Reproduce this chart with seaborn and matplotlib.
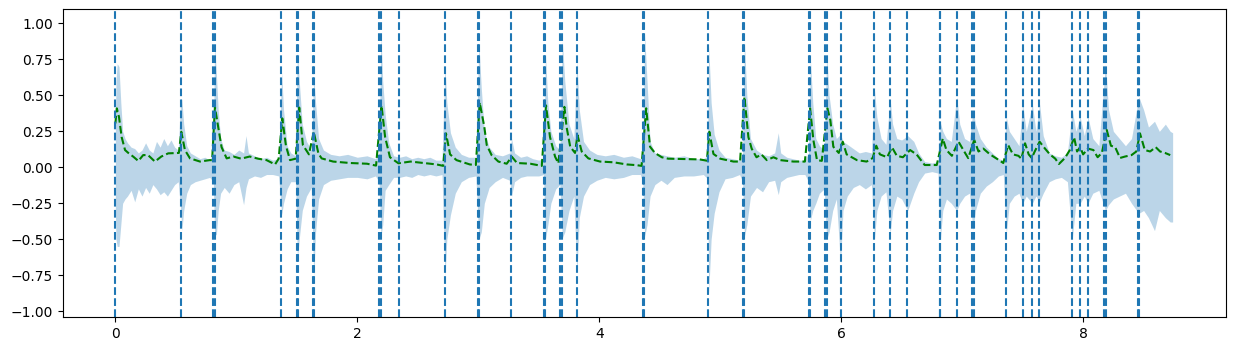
import numpy as np
import pandas as pd
import matplotlib
matplotlib.use("Agg")
import matplotlib.pyplot as plt
import seaborn as sns

# ---- waveform envelope (time [s], upper, lower) ----
wave_t = [0.000, 0.005, 0.015, 0.030, 0.045, 0.060, 0.080, 0.100, 0.130, 0.160, 0.190, 0.220, 0.250, 0.280,
          0.310, 0.340, 0.370, 0.400, 0.430, 0.460, 0.490, 0.520, 0.540, 0.550, 0.565, 0.590, 0.620, 0.660,
          0.700, 0.740, 0.780, 0.810, 0.820, 0.835, 0.850, 0.870, 0.900, 0.940, 0.980, 1.020, 1.060, 1.080,
          1.100, 1.150, 1.200, 1.250, 1.300, 1.350, 1.375, 1.390, 1.420, 1.450, 1.490, 1.505, 1.520, 1.545,
          1.580, 1.620, 1.640, 1.655, 1.680, 1.720, 1.780, 1.850, 1.920, 2.000, 2.080, 2.150, 2.180, 2.195,
          2.210, 2.230, 2.260, 2.300, 2.350, 2.400, 2.450, 2.500, 2.550, 2.600, 2.650, 2.700, 2.725, 2.740,
          2.770, 2.810, 2.860, 2.920, 2.980, 3.005, 3.025, 3.050, 3.090, 3.140, 3.200, 3.260, 3.275, 3.300,
          3.350, 3.400, 3.450, 3.500, 3.540, 3.555, 3.575, 3.600, 3.640, 3.675, 3.695, 3.715, 3.750, 3.790,
          3.815, 3.835, 3.870, 3.920, 3.980, 4.050, 4.120, 4.200, 4.270, 4.340, 4.360, 4.375, 4.395, 4.420,
          4.460, 4.510, 4.560, 4.620, 4.700, 4.780, 4.860, 4.895, 4.905, 4.925, 4.950, 4.990, 5.040, 5.100,
          5.160, 5.185, 5.200, 5.220, 5.250, 5.300, 5.350, 5.400, 5.450, 5.480, 5.500, 5.550, 5.600, 5.650,
          5.700, 5.730, 5.745, 5.765, 5.790, 5.820, 5.860, 5.880, 5.900, 5.930, 5.960, 5.995, 6.015, 6.050,
          6.100, 6.150, 6.200, 6.250, 6.275, 6.295, 6.330, 6.370, 6.405, 6.425, 6.460, 6.500, 6.550, 6.600,
          6.640, 6.690, 6.750, 6.800, 6.820, 6.840, 6.870, 6.910, 6.955, 6.980, 7.020, 7.060, 7.090, 7.110,
          7.150, 7.200, 7.250, 7.300, 7.340, 7.365, 7.390, 7.430, 7.470, 7.500, 7.530, 7.580, 7.610, 7.640,
          7.670, 7.720, 7.770, 7.820, 7.870, 7.910, 7.940, 7.975, 8.010, 8.040, 8.080, 8.130, 8.185, 8.210,
          8.250, 8.300, 8.350, 8.400, 8.460, 8.500, 8.540, 8.590, 8.630, 8.680, 8.720, 8.740]
wave_top = [0.30, 0.60, 0.72, 0.70, 0.45, 0.25, 0.20, 0.17, 0.14, 0.13, 0.10, 0.12, 0.17, 0.12,
            0.10, 0.18, 0.14, 0.20, 0.15, 0.19, 0.14, 0.12, 0.48, 0.47, 0.30, 0.15, 0.10, 0.08,
            0.06, 0.07, 0.05, 0.10, 0.86, 0.65, 0.40, 0.20, 0.12, 0.11, 0.09, 0.12, 0.10, 0.22,
            0.10, 0.08, 0.06, 0.07, 0.05, 0.06, 0.66, 0.40, 0.15, 0.10, 0.08, 0.81, 0.60, 0.30,
            0.18, 0.12, 0.63, 0.45, 0.20, 0.12, 0.09, 0.08, 0.09, 0.07, 0.08, 0.06, 0.10, 0.93,
            0.60, 0.37, 0.17, 0.08, 0.07, 0.08, 0.06, 0.07, 0.06, 0.07, 0.05, 0.05, 0.70, 0.45,
            0.24, 0.14, 0.09, 0.07, 0.07, 0.86, 0.55, 0.25, 0.14, 0.09, 0.08, 0.10, 0.20, 0.10,
            0.07, 0.08, 0.06, 0.05, 0.06, 0.79, 0.45, 0.25, 0.15, 0.12, 0.88, 0.60, 0.30, 0.20,
            0.74, 0.40, 0.18, 0.12, 0.09, 0.08, 0.09, 0.07, 0.08, 0.06, 0.10, 0.93, 0.60, 0.18,
            0.10, 0.09, 0.08, 0.07, 0.08, 0.06, 0.06, 0.08, 0.84, 0.45, 0.23, 0.12, 0.07, 0.06,
            0.05, 0.10, 0.88, 0.50, 0.20, 0.12, 0.09, 0.08, 0.10, 0.24, 0.10, 0.07, 0.06, 0.05,
            0.05, 0.10, 0.76, 0.45, 0.20, 0.15, 0.12, 0.79, 0.50, 0.30, 0.20, 0.23, 0.18, 0.16,
            0.13, 0.10, 0.11, 0.10, 0.54, 0.35, 0.20, 0.16, 0.47, 0.30, 0.20, 0.19, 0.22, 0.18,
            0.10, 0.04, 0.03, 0.04, 0.31, 0.25, 0.20, 0.18, 0.49, 0.30, 0.20, 0.18, 0.40, 0.30,
            0.20, 0.14, 0.10, 0.06, 0.05, 0.35, 0.25, 0.20, 0.15, 0.44, 0.25, 0.44, 0.25, 0.44,
            0.22, 0.10, 0.08, 0.07, 0.10, 0.40, 0.25, 0.35, 0.22, 0.35, 0.20, 0.15, 0.72, 0.40,
            0.25, 0.20, 0.15, 0.20, 0.49, 0.40, 0.28, 0.32, 0.25, 0.30, 0.25, 0.24]
wave_bot = [-0.30, -0.50, -0.55, -0.55, -0.40, -0.25, -0.22, -0.20, -0.16, -0.24, -0.15, -0.20, -0.14, -0.18,
            -0.12, -0.15, -0.19, -0.17, -0.20, -0.16, -0.12, -0.10, -0.30, -0.44, -0.30, -0.18, -0.12, -0.10,
            -0.09, -0.08, -0.07, -0.10, -0.46, -0.47, -0.30, -0.18, -0.14, -0.18, -0.12, -0.10, -0.26, -0.14,
            -0.08, -0.06, -0.07, -0.05, -0.05, -0.06, -0.33, -0.25, -0.15, -0.10, -0.10, -0.64, -0.50, -0.30,
            -0.20, -0.14, -0.76, -0.45, -0.22, -0.12, -0.09, -0.08, -0.07, -0.07, -0.08, -0.06, -0.10, -0.48,
            -0.40, -0.16, -0.12, -0.07, -0.07, -0.06, -0.07, -0.05, -0.06, -0.05, -0.06, -0.05, -0.76, -0.50,
            -0.33, -0.18, -0.10, -0.07, -0.06, -0.50, -0.45, -0.25, -0.14, -0.10, -0.07, -0.09, -0.20, -0.10,
            -0.07, -0.06, -0.06, -0.06, -0.05, -0.50, -0.40, -0.25, -0.15, -0.12, -0.49, -0.45, -0.30, -0.20,
            -0.74, -0.35, -0.20, -0.12, -0.09, -0.07, -0.08, -0.07, -0.05, -0.05, -0.10, -0.48, -0.40, -0.20,
            -0.12, -0.09, -0.12, -0.07, -0.06, -0.06, -0.05, -0.08, -0.875, -0.50, -0.32, -0.17, -0.08, -0.07,
            -0.05, -0.10, -0.48, -0.40, -0.20, -0.14, -0.17, -0.10, -0.09, -0.19, -0.10, -0.07, -0.06, -0.05,
            -0.05, -0.10, -0.37, -0.30, -0.25, -0.18, -0.15, -0.50, -0.45, -0.30, -0.22, -0.67, -0.30, -0.20,
            -0.14, -0.12, -0.15, -0.12, -0.50, -0.30, -0.20, -0.17, -0.46, -0.30, -0.20, -0.22, -0.30, -0.18,
            -0.10, -0.04, -0.03, -0.04, -0.50, -0.30, -0.22, -0.25, -0.30, -0.25, -0.20, -0.18, -0.435, -0.30,
            -0.18, -0.13, -0.10, -0.06, -0.05, -0.46, -0.25, -0.20, -0.18, -0.25, -0.20, -0.25, -0.20, -0.24,
            -0.18, -0.10, -0.08, -0.07, -0.10, -0.50, -0.25, -0.25, -0.20, -0.25, -0.18, -0.16, -0.30, -0.26,
            -0.22, -0.20, -0.18, -0.25, -0.32, -0.30, -0.35, -0.44, -0.30, -0.35, -0.38, -0.38]

# ---- normalised onset strength envelope (time [s], value) ----
env_t = [0.000, 0.012, 0.030, 0.052, 0.080, 0.107, 0.148, 0.190, 0.230, 0.270, 0.327, 0.380, 0.437, 0.507,
         0.525, 0.545, 0.575, 0.617, 0.700, 0.780, 0.800, 0.823, 0.850, 0.878, 0.920, 0.975, 1.040, 1.110,
         1.180, 1.250, 1.320, 1.350, 1.380, 1.410, 1.444, 1.490, 1.520, 1.550, 1.600, 1.640, 1.678, 1.705,
         1.800, 1.940, 2.080, 2.155, 2.200, 2.230, 2.270, 2.340, 2.440, 2.545, 2.656, 2.710, 2.733, 2.767,
         2.820, 2.930, 2.980, 3.012, 3.050, 3.070, 3.110, 3.166, 3.235, 3.277, 3.320, 3.430, 3.525, 3.560,
         3.593, 3.635, 3.662, 3.712, 3.730, 3.760, 3.800, 3.820, 3.855, 3.910, 4.007, 4.117, 4.227, 4.310,
         4.350, 4.388, 4.420, 4.460, 4.517, 4.570, 4.830, 4.890, 4.910, 4.944, 5.000, 5.110, 5.164, 5.200,
         5.233, 5.260, 5.300, 5.340, 5.385, 5.440, 5.495, 5.605, 5.700, 5.743, 5.770, 5.800, 5.840, 5.886,
         5.910, 5.935, 5.980, 6.013, 6.045, 6.130, 6.210, 6.260, 6.290, 6.320, 6.380, 6.420, 6.460, 6.510,
         6.570, 6.625, 6.690, 6.790, 6.840, 6.870, 6.915, 6.970, 7.010, 7.050, 7.100, 7.135, 7.175, 7.230,
         7.286, 7.340, 7.380, 7.420, 7.465, 7.490, 7.520, 7.550, 7.575, 7.600, 7.640, 7.685, 7.725, 7.770,
         7.800, 7.850, 7.890, 7.925, 7.950, 7.975, 8.000, 8.040, 8.085, 8.120, 8.155, 8.195, 8.230, 8.265,
         8.305, 8.347, 8.400, 8.440, 8.470, 8.510, 8.554, 8.600, 8.636, 8.677, 8.720]
env_v = [0.305, 0.41, 0.35, 0.21, 0.12, 0.10, 0.074, 0.044, 0.085, 0.085, 0.040, 0.075, 0.097, 0.100,
         0.10, 0.247, 0.12, 0.062, 0.040, 0.050, 0.05, 0.42, 0.28, 0.14, 0.062, 0.075, 0.060, 0.075,
         0.060, 0.050, 0.020, 0.060, 0.34, 0.15, 0.050, 0.06, 0.415, 0.155, 0.090, 0.247, 0.097, 0.062,
         0.040, 0.030, 0.025, 0.012, 0.43, 0.21, 0.070, 0.028, 0.040, 0.030, 0.020, 0.010, 0.236, 0.090,
         0.050, 0.020, 0.016, 0.45, 0.28, 0.155, 0.085, 0.040, 0.025, 0.074, 0.030, 0.025, 0.010, 0.43,
         0.21, 0.074, 0.028, 0.42, 0.28, 0.143, 0.10, 0.224, 0.11, 0.062, 0.040, 0.035, 0.020, 0.015,
         0.010, 0.41, 0.143, 0.10, 0.07, 0.06, 0.055, 0.046, 0.247, 0.093, 0.060, 0.040, 0.040, 0.49,
         0.21, 0.13, 0.07, 0.09, 0.05, 0.07, 0.05, 0.04, 0.04, 0.41, 0.19, 0.05, 0.045, 0.41,
         0.33, 0.143, 0.10, 0.178, 0.09, 0.05, 0.04, 0.064, 0.15, 0.09, 0.07, 0.139, 0.08, 0.07,
         0.12, 0.088, 0.016, 0.016, 0.20, 0.12, 0.08, 0.178, 0.12, 0.064, 0.19, 0.11, 0.13, 0.09,
         0.06, 0.03, 0.155, 0.09, 0.08, 0.06, 0.167, 0.09, 0.065, 0.11, 0.178, 0.13, 0.09, 0.06,
         0.023, 0.065, 0.12, 0.21, 0.11, 0.14, 0.09, 0.13, 0.12, 0.07, 0.10, 0.26, 0.15, 0.14,
         0.065, 0.075, 0.085, 0.11, 0.236, 0.12, 0.11, 0.14, 0.11, 0.10, 0.085]

# ---- detected onset times [s] (close pairs render as thick lines) ----
onset_times = [0.000, 0.542, 0.810, 0.821, 1.371, 1.499, 1.510, 1.633, 1.645, 2.181, 2.192, 2.344,
               2.724, 2.997, 3.008, 3.267, 3.543, 3.554, 3.678, 3.689, 3.815, 4.361, 4.372, 4.900,
               5.185, 5.196, 5.730, 5.741, 5.870, 5.881, 6.002, 6.272, 6.407, 6.548, 6.816, 6.821,
               6.955, 7.083, 7.094, 7.363, 7.503, 7.581, 7.639, 7.908, 7.972, 8.041, 8.176, 8.187,
               8.452, 8.463]

wave_df = pd.DataFrame({"t": wave_t, "top": wave_top, "bot": wave_bot})
env_df = pd.DataFrame({"t": env_t, "v": env_v})

fig = plt.figure(figsize=(12.34, 3.51), dpi=100)
ax = fig.add_axes([62.5 / 1234, 1 - 317 / 351, (1225.5 - 62.5) / 1234, (317 - 9) / 351])

blue = sns.color_palette("tab10")[0]
ax.fill_between(wave_df["t"], wave_df["bot"], wave_df["top"], color=blue, alpha=0.3, linewidth=0)
sns.lineplot(data=env_df, x="t", y="v", ax=ax, color="green", linestyle="--", linewidth=1.5)

ax.set_xlim(-0.437, 9.177)
ax.set_ylim(-1.04, 1.1)
ax.vlines(onset_times, -1.04, 1.1, colors=blue, linestyles="--", linewidth=1.5)

ax.set_xticks([0, 2, 4, 6, 8])
ax.set_yticks([-1.0, -0.75, -0.5, -0.25, 0.0, 0.25, 0.5, 0.75, 1.0])
ax.set_xlabel("")
ax.set_ylabel("")

fig.savefig("out.png", dpi=100)
